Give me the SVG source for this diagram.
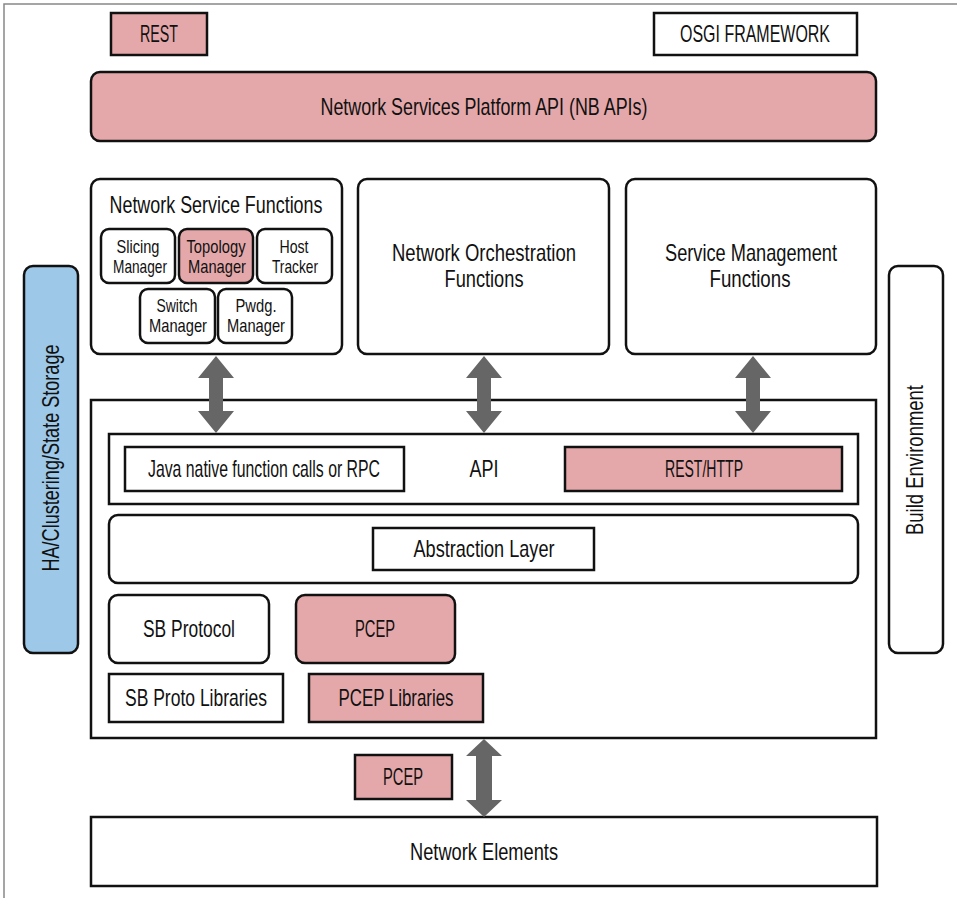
<svg xmlns="http://www.w3.org/2000/svg" width="957" height="898" viewBox="0 0 957 898">
<style>
text{font-family:"Liberation Sans",Arial,sans-serif;font-size:24px;fill:#111;text-anchor:middle}
.sm{font-size:19px}
.b{fill:#fff;stroke:#111;stroke-width:2.5}
.p{fill:#e4a8aa;stroke:#111;stroke-width:2.5}
.bl{fill:#9dc8e8;stroke:#111;stroke-width:2.5}
.arr{fill:#666}
</style>
<rect width="957" height="898" fill="#fff"/>
<rect x="4" y="4" width="970" height="910" fill="none" stroke="#888" stroke-width="1.5"/>

<g id="rest"><rect class="p" x="111" y="13" width="96" height="42"/><text x="159" y="42" textLength="38" lengthAdjust="spacingAndGlyphs">REST</text></g>
<g id="osgi"><rect class="b" x="654" y="13" width="203" height="42"/><text x="755" y="42" textLength="150" lengthAdjust="spacingAndGlyphs">OSGI FRAMEWORK</text></g>
<g id="nbapi"><rect class="p" x="91" y="72" width="785" height="69" rx="9"/><text x="484" y="115" textLength="327" lengthAdjust="spacingAndGlyphs">Network Services Platform API (NB APIs)</text></g>

<g id="nsf"><rect class="b" x="91" y="179" width="251" height="175" rx="9"/><text x="216" y="213" textLength="213" lengthAdjust="spacingAndGlyphs">Network Service Functions</text></g>
<g id="slicing"><rect class="b" x="101" y="229" width="74" height="54" rx="8"/><text class="sm" x="138" y="253" textLength="43" lengthAdjust="spacingAndGlyphs">Slicing</text><text class="sm" x="140" y="273" textLength="54" lengthAdjust="spacingAndGlyphs">Manager</text></g>
<g id="topology"><rect class="p" x="179" y="229" width="74" height="54" rx="8"/><text class="sm" x="216" y="253" textLength="59" lengthAdjust="spacingAndGlyphs">Topology</text><text class="sm" x="217" y="273" textLength="58" lengthAdjust="spacingAndGlyphs">Manager</text></g>
<g id="host"><rect class="b" x="257" y="229" width="75" height="54" rx="8"/><text class="sm" x="294" y="253" textLength="29" lengthAdjust="spacingAndGlyphs">Host</text><text class="sm" x="295" y="273" textLength="46" lengthAdjust="spacingAndGlyphs">Tracker</text></g>
<g id="switch"><rect class="b" x="140" y="289" width="75" height="54" rx="8"/><text class="sm" x="177" y="312" textLength="41" lengthAdjust="spacingAndGlyphs">Switch</text><text class="sm" x="178" y="332" textLength="58" lengthAdjust="spacingAndGlyphs">Manager</text></g>
<g id="pwdg"><rect class="b" x="218" y="289" width="74" height="54" rx="8"/><text class="sm" x="256" y="312" textLength="41" lengthAdjust="spacingAndGlyphs">Pwdg.</text><text class="sm" x="256" y="332" textLength="58" lengthAdjust="spacingAndGlyphs">Manager</text></g>

<g id="nof"><rect class="b" x="358" y="179" width="251" height="175" rx="9"/><text x="484" y="261" textLength="184" lengthAdjust="spacingAndGlyphs">Network Orchestration</text><text x="484" y="287" textLength="79" lengthAdjust="spacingAndGlyphs">Functions</text></g>
<g id="smf"><rect class="b" x="626" y="179" width="250" height="175" rx="9"/><text x="751" y="261" textLength="172" lengthAdjust="spacingAndGlyphs">Service Management</text><text x="750" y="287" textLength="81" lengthAdjust="spacingAndGlyphs">Functions</text></g>

<g id="ha"><rect class="bl" x="24" y="266" width="54" height="387" rx="9"/><text transform="translate(59,458) rotate(-90)" x="0" y="0" textLength="227" lengthAdjust="spacingAndGlyphs">HA/Clustering/State Storage</text></g>
<g id="build"><rect class="b" x="889" y="266" width="54" height="387" rx="9"/><text transform="translate(923,460) rotate(-90)" x="0" y="0" textLength="150" lengthAdjust="spacingAndGlyphs">Build Environment</text></g>

<g id="main"><rect class="b" x="91" y="400" width="785" height="338"/></g>
<g id="api"><rect class="b" x="109" y="434" width="749" height="70"/><text x="484" y="477" textLength="29" lengthAdjust="spacingAndGlyphs">API</text></g>
<g id="java"><rect class="b" x="125" y="447" width="279" height="44"/><text x="264" y="477" textLength="232" lengthAdjust="spacingAndGlyphs">Java native function calls or RPC</text></g>
<g id="resthttp"><rect class="p" x="565" y="447" width="277" height="44"/><text x="704" y="477" textLength="78" lengthAdjust="spacingAndGlyphs">REST/HTTP</text></g>
<g id="abslayer"><rect class="b" x="109" y="515" width="749" height="68" rx="9"/></g>
<g id="abs"><rect class="b" x="373" y="528" width="221" height="42"/><text x="484" y="557" textLength="141" lengthAdjust="spacingAndGlyphs">Abstraction Layer</text></g>
<g id="sbproto"><rect class="b" x="109" y="595" width="160" height="68" rx="9"/><text x="189" y="637" textLength="92" lengthAdjust="spacingAndGlyphs">SB Protocol</text></g>
<g id="pcep"><rect class="p" x="296" y="595" width="159" height="68" rx="9"/><text x="375" y="637" textLength="40" lengthAdjust="spacingAndGlyphs">PCEP</text></g>
<g id="sblib"><rect class="b" x="109" y="674" width="174" height="48"/><text x="196" y="706" textLength="142" lengthAdjust="spacingAndGlyphs">SB Proto Libraries</text></g>
<g id="pceplib"><rect class="p" x="309" y="674" width="174" height="48"/><text x="396" y="706" textLength="115" lengthAdjust="spacingAndGlyphs">PCEP Libraries</text></g>
<g id="pcep2"><rect class="p" x="355" y="755" width="97" height="44"/><text x="403" y="785" textLength="40" lengthAdjust="spacingAndGlyphs">PCEP</text></g>
<g id="ne"><rect class="b" x="91" y="817" width="786" height="69"/><text x="484" y="860" textLength="148" lengthAdjust="spacingAndGlyphs">Network Elements</text></g>

<g id="connectors">
<polygon class="arr" points="216,356 234,378 223,378 223,411 234,411 216,433 198,411 209,411 209,378 198,378"/>
<polygon class="arr" points="484,356 502,378 491,378 491,411 502,411 484,433 466,411 477,411 477,378 466,378"/>
<polygon class="arr" points="753,356 771,378 760,378 760,411 771,411 753,433 735,411 746,411 746,378 735,378"/>
<polygon class="arr" points="484,739 502,756 492,756 492,800 502,800 484,817 466,800 476,800 476,756 466,756"/>
</g>
</svg>
